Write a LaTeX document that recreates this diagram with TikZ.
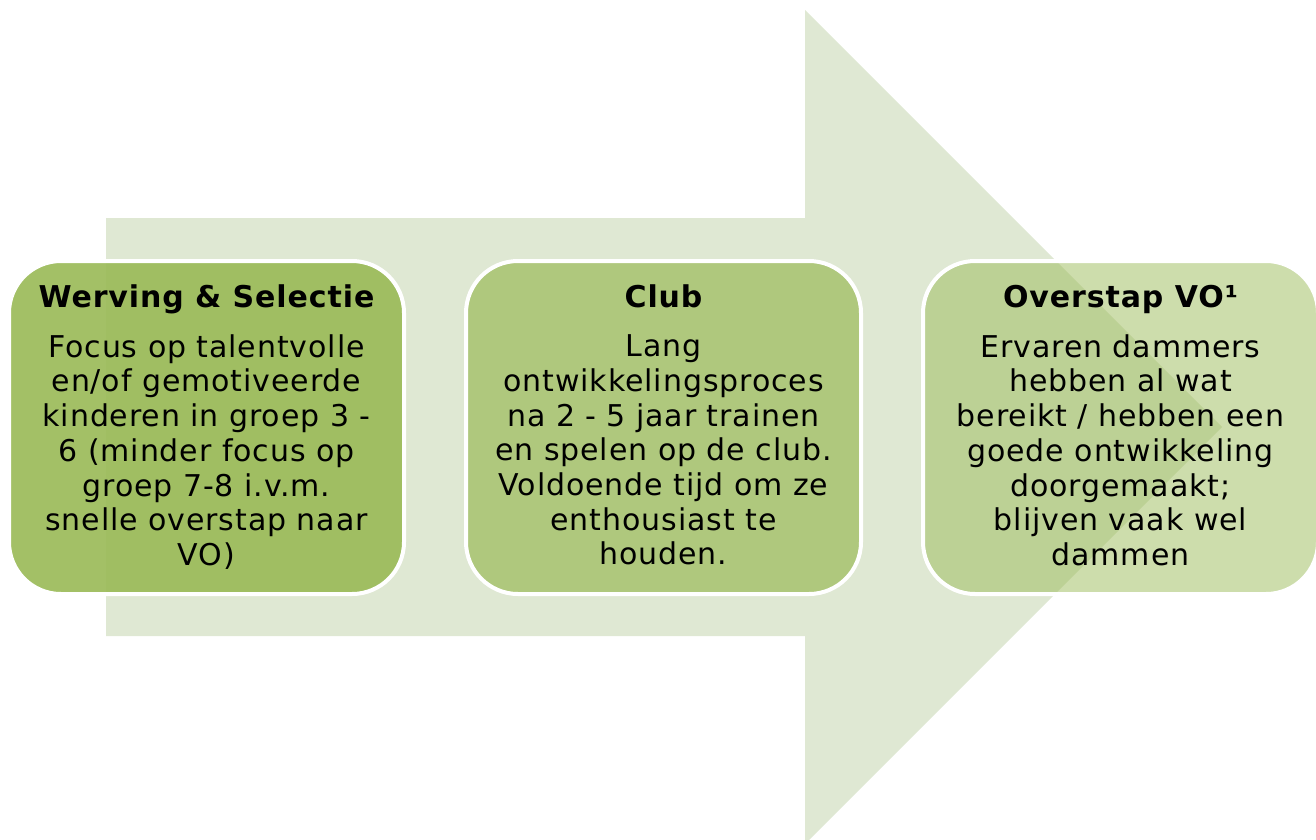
\documentclass[tikz,border=0pt]{standalone}
\usepackage{fontspec}
\setmainfont{DejaVu Sans}[LetterSpace=3]
\usepackage{xcolor}
\usepackage{tikz}
\definecolor{stepgreen}{RGB}{155,187,89}
\definecolor{arrowgreen}{RGB}{223,232,211}
\newcommand{\phasetitle}[1]{{\bfseries\fontsize{30}{40}\selectfont\strut #1}\\[14.3pt]}

\begin{document}
\begin{tikzpicture}[x=1pt,y=-1pt,
  phase/.style={rounded corners=52pt,draw=white,line width=4pt,fill=stepgreen,text opacity=1,
    minimum width=395pt,minimum height=333pt,inner sep=0pt,align=center,
    font=\fontsize{30}{34.7}\selectfont}]
\useasboundingbox (0,0) rectangle (1316,839);
% big arrow behind the phases
\coordinate (tail) at (106,218); \coordinate (tip) at (1222,427);
\fill[arrowgreen] (tail) -- (805,218) -- (805,10) -- (tip) -- (805,844) -- (805,636) -- (106,636) -- cycle;
\node[phase,fill opacity=0.92] (werving) at (206.5,427.5) {\phasetitle{Werving \& Selectie}Focus op talentvolle\\ en/of gemotiveerde\\ kinderen in groep 3 -\\ 6 (minder focus op\\ groep 7-8 i.v.m.\\ snelle overstap naar\\ VO)\strut};
\node[phase,fill opacity=0.7] (club) at (663.5,427.5) {\phasetitle{Club}Lang\\ ontwikkelingsproces\\ na 2 - 5 jaar trainen\\ en spelen op de club.\\ Voldoende tijd om ze\\ enthousiast te\\ houden.\strut};
\node[phase,fill opacity=0.5] (overstap) at (1120.5,427.5) {\phasetitle{Overstap VO¹}Ervaren dammers\\ hebben al wat\\ bereikt / hebben een\\ goede ontwikkeling\\ doorgemaakt;\\ blijven vaak wel\\ dammen\strut};
\end{tikzpicture}
\end{document}
